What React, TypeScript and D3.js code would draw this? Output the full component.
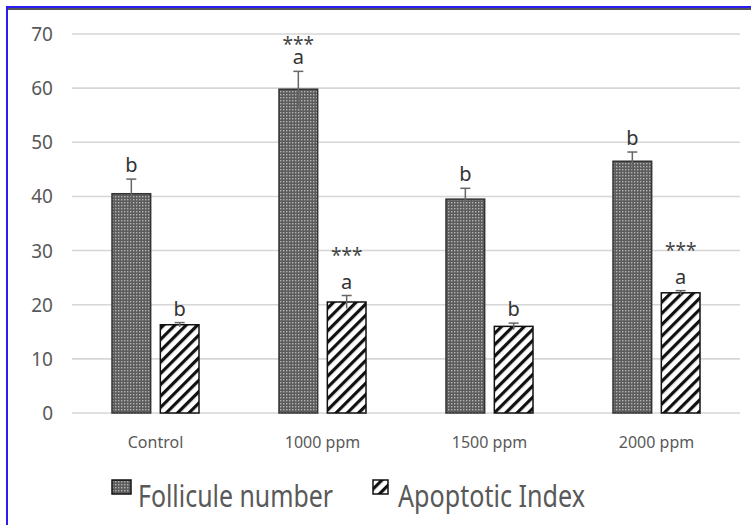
import React, { useRef, useEffect } from "react";
import * as d3 from "d3";

const fontFamily = "'Noto Sans', 'Open Sans', sans-serif";

const categories = ["Control", "1000 ppm", "1500 ppm", "2000 ppm"];
const seriesNames = ["Follicule number", "Apoptotic Index"];
const follicleValues = [40.5, 59.8, 39.5, 46.5];
const follicleErrors = [2.7, 3.3, 2.0, 1.7];
const apoptoticValues = [16.3, 20.5, 16.0, 22.2];
const apoptoticErrors = [0.4, 1.2, 0.6, 0.4];
const follicleLetters = ["b", "a", "b", "b"];
const apoptoticLetters = ["b", "a", "b", "a"];
const follicleStars = ["", "***", "", ""];
const apoptoticStars = ["", "***", "", "***"];
const yTicks = [0, 10, 20, 30, 40, 50, 60, 70];

export default function App() {
  const ref = useRef<SVGSVGElement>(null);
  const width = 751;
  const height = 525;

  useEffect(() => {
    const svg = d3.select(ref.current);
    svg.selectAll("*").remove();
    svg.style("font-family", fontFamily);

    const defs = svg.append("defs");

    // dotted pattern for follicle bars
    const dots = defs.append("pattern")
      .attr("id", "dots")
      .attr("patternUnits", "userSpaceOnUse")
      .attr("width", 3)
      .attr("height", 3);
    dots.append("rect").attr("width", 3).attr("height", 3).attr("fill", "#5c5c5c");
    dots.append("rect").attr("x", 1).attr("y", 1).attr("width", 1.4).attr("height", 1.4).attr("fill", "#b4b4b4");

    // diagonal stripes for apoptotic bars
    const stripes = defs.append("pattern")
      .attr("id", "stripes")
      .attr("patternUnits", "userSpaceOnUse")
      .attr("width", 8)
      .attr("height", 8)
      .attr("patternTransform", "rotate(45)");
    stripes.append("rect").attr("width", 8).attr("height", 8).attr("fill", "#fff");
    stripes.append("rect").attr("width", 3.2).attr("height", 8).attr("fill", "#111");

    const y = d3.scaleLinear().domain([0, 70]).range([413, 34]);
    const x0 = d3.scaleBand<string>().domain(categories).range([72, 740]);
    const x1 = d3.scaleBand<string>().domain(seriesNames).range([40, 127]).paddingInner(0.2);

    // frame
    svg.append("line").attr("x1", 7).attr("x2", 751).attr("y1", 9).attr("y2", 9)
      .attr("stroke", "#555").attr("stroke-width", 2);
    svg.append("line").attr("x1", 7).attr("x2", 751).attr("y1", 7).attr("y2", 7)
      .attr("stroke", "#2b1df2").attr("stroke-width", 2);
    svg.append("line").attr("x1", 7).attr("x2", 7).attr("y1", 6).attr("y2", 525)
      .attr("stroke", "#2b1df2").attr("stroke-width", 2);

    // gridlines
    svg.append("g")
      .selectAll("line")
      .data(yTicks)
      .join("line")
      .attr("x1", 72)
      .attr("x2", 740)
      .attr("y1", d => y(d))
      .attr("y2", d => y(d))
      .attr("stroke", "#d6d6d6")
      .attr("stroke-width", 1.6);

    svg.append("g")
      .selectAll("text")
      .data(yTicks)
      .join("text")
      .attr("x", 53)
      .attr("y", d => y(d) + 7)
      .attr("text-anchor", "end")
      .attr("font-size", 19)
      .attr("fill", "#595959")
      .text(d => d);

    svg.append("g")
      .selectAll("text")
      .data(categories)
      .join("text")
      .attr("x", d => (x0(d) as number) + x0.bandwidth() / 2)
      .attr("y", 448)
      .attr("text-anchor", "middle")
      .attr("font-size", 16)
      .attr("fill", "#595959")
      .text(d => d);

    const series = [
      { name: seriesNames[0], values: follicleValues, errors: follicleErrors, letters: follicleLetters, stars: follicleStars, fill: "url(#dots)", stroke: "#333", starGap: 20 },
      { name: seriesNames[1], values: apoptoticValues, errors: apoptoticErrors, letters: apoptoticLetters, stars: apoptoticStars, fill: "url(#stripes)", stroke: "#111", starGap: 34 }
    ];

    series.forEach(s => {
      const g = svg.append("g");
      const rows = categories.map((c, i) => ({
        c, v: s.values[i], e: s.errors[i], l: s.letters[i], st: s.stars[i]
      }));
      const bx = (d: { c: string }) => (x0(d.c) as number) + (x1(s.name) as number);
      const cx = (d: { c: string }) => bx(d) + x1.bandwidth() / 2;

      g.selectAll("rect")
        .data(rows)
        .join("rect")
        .attr("x", d => bx(d))
        .attr("y", d => y(d.v))
        .attr("width", x1.bandwidth())
        .attr("height", d => y(0) - y(d.v))
        .attr("fill", s.fill)
        .attr("stroke", s.stroke)
        .attr("stroke-width", 1.5);

      // error bars
      g.selectAll("line.err")
        .data(rows)
        .join("line")
        .attr("class", "err")
        .attr("x1", cx)
        .attr("x2", cx)
        .attr("y1", d => y(d.v - d.e))
        .attr("y2", d => y(d.v + d.e))
        .attr("stroke", "#666")
        .attr("stroke-width", 1.5);
      g.selectAll("line.cap")
        .data(rows)
        .join("line")
        .attr("class", "cap")
        .attr("x1", d => cx(d) - 5)
        .attr("x2", d => cx(d) + 5)
        .attr("y1", d => y(d.v + d.e))
        .attr("y2", d => y(d.v + d.e))
        .attr("stroke", "#666")
        .attr("stroke-width", 1.5);

      g.selectAll("text.letter")
        .data(rows)
        .join("text")
        .attr("class", "letter")
        .attr("x", cx)
        .attr("y", d => y(d.v + d.e) - 7)
        .attr("text-anchor", "middle")
        .attr("font-size", 20)
        .attr("fill", "#333")
        .text(d => d.l);

      g.selectAll("text.stars")
        .data(rows.filter(d => d.st))
        .join("text")
        .attr("class", "stars")
        .attr("x", cx)
        .attr("y", d => y(d.v + d.e) - s.starGap)
        .attr("text-anchor", "middle")
        .attr("font-size", 19)
        .attr("fill", "#444")
        .text(d => d.st);
    });

    // legend
    const legend = svg.append("g");
    const items = [
      { name: seriesNames[0], x: 112, w: 19, tx: 138, tw: 195, fill: "url(#dots)" },
      { name: seriesNames[1], x: 373, w: 15, tx: 398, tw: 187, fill: "url(#stripes)" }
    ];
    items.forEach(it => {
      legend.append("rect")
        .attr("x", it.x)
        .attr("y", 480)
        .attr("width", it.w)
        .attr("height", 14)
        .attr("fill", it.fill)
        .attr("stroke", "#111")
        .attr("stroke-width", 1.5);
      legend.append("text")
        .attr("x", it.tx)
        .attr("y", 507)
        .attr("font-size", 30)
        .attr("fill", "#595959")
        .attr("textLength", it.tw)
        .attr("lengthAdjust", "spacingAndGlyphs")
        .text(it.name);
    });
  }, []);

  return (
    <div style={{ position: "fixed", left: 0, top: 0, background: "#fff" }}>
      <svg ref={ref} width={width} height={height} style={{ display: "block" }}></svg>
    </div>
  );
}
